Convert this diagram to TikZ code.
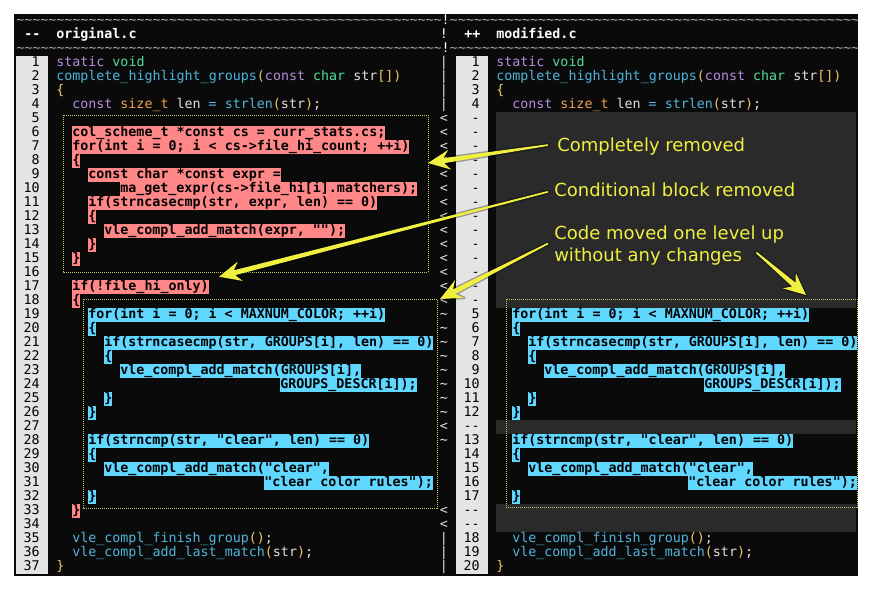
\documentclass[tikz,border=0pt]{standalone}
\usepackage{fontspec}
\setmainfont{DejaVu Sans}
\setmonofont{DejaVu Sans Mono}
\usetikzlibrary{calc}

\definecolor{termbg}{RGB}{10,10,10}
\definecolor{gonebg}{RGB}{42,42,42}
\definecolor{gutterbg}{RGB}{228,228,228}
\definecolor{delred}{RGB}{255,135,135}
\definecolor{movblue}{RGB}{95,215,255}
\definecolor{kwpurple}{RGB}{180,140,220}
\definecolor{tygreen}{RGB}{80,220,150}
\definecolor{fncyan}{RGB}{80,180,220}
\definecolor{brorange}{RGB}{240,200,100}
\definecolor{szorange}{RGB}{240,160,80}
\definecolor{plaingray}{RGB}{225,225,225}
\definecolor{notey}{RGB}{240,240,64}
\definecolor{boxy}{RGB}{200,200,90}

\ExplSyntaxOn
\cs_new_eq:NN \reptext \prg_replicate:nn
\ExplSyntaxOff

\newcommand\codesize{\fontsize{10}{12}\selectfont}
\newcommand\ckw[1]{\textcolor{kwpurple}{#1}}
\newcommand\cty[1]{\textcolor{tygreen}{#1}}
\newcommand\cfn[1]{\textcolor{fncyan}{#1}}
\newcommand\cbr[1]{\textcolor{brorange}{#1}}
\newcommand\csz[1]{\textcolor{szorange}{#1}}

\tikzset{
  codetxt/.style={anchor=base west, inner sep=0pt, font=\codesize\ttfamily, text=plaingray},
  hlred/.style={codetxt, fill=delred, text=black, font=\codesize\ttfamily\bfseries,
    text height=7.875pt, text depth=2.625pt},
  hlblue/.style={hlred, fill=movblue},
  lnum/.style={anchor=base east, inner sep=0pt, font=\codesize\ttfamily, text=black},
  diffsign/.style={anchor=base, inner sep=0pt, font=\codesize\ttfamily, text=plaingray},
  hdr/.style={codetxt, font=\codesize\ttfamily\bfseries, text=white},
  tildes/.style={codetxt, text=gray!70},
  notetxt/.style={inner sep=0pt, text=notey, font=\fontsize{13.5}{16.5}\selectfont, align=left},
  chgbox/.style={draw=boxy, line width=0.75pt, dash pattern=on 0.75pt off 0.75pt},
  notearrow/.style={fill=notey, preaction={draw=black, line width=2pt, opacity=.35, line join=round}}
}

% tapered arrow: #1 tail, #2 tip
\newcommand\fatarrow[2]{%
  \path (#2) coordinate (ahtip) ($(#2)!12pt!(#1)$) coordinate (ahneck)
        ($(#2)!16.5pt!(#1)$) coordinate (ahwing);
  \fill[notearrow] ($(#1)!0.6pt!90:(#2)$) -- ($(ahneck)!1.9pt!90:(ahtip)$)
    -- ($(ahwing)!7.5pt!90:(ahtip)$) -- (ahtip) -- ($(ahwing)!7.5pt!-90:(ahtip)$)
    -- ($(ahneck)!1.9pt!-90:(ahtip)$) -- ($(#1)!0.6pt!-90:(#2)$) -- cycle;}

\begin{document}
\begin{tikzpicture}[x=0.75pt, y=-0.75pt]
\useasboundingbox (0,0) rectangle (871,589);

% terminal window
\fill[termbg] (14,14) rectangle (858,576);
\fill[gutterbg] (16,56) rectangle (48,574);
\fill[gutterbg] (456,56) rectangle (488,574);

% filler rows on the right
\fill[gonebg] (496,112) rectangle (856,308);
\fill[gonebg] (496,420) rectangle (856,434);
\fill[gonebg] (496,504) rectangle (856,532);

\begin{scope}[shift={(16,52.5)}, x=6pt, y=-10.5pt]
  % header
  \foreach \r in {-2,0}
    \node[tildes] (rule\r) at (0,\r)
      {\reptext{53}{\textasciitilde}\textcolor{white}{!}\reptext{51}{\textasciitilde}};
  \node[hdr] (minus) at (1,-1) {-{}-};
  \node[hdr] (oname) at (5,-1) {original.c};
  \node[diffsign, text=white] (bang) at (53.5,-1) {!};
  \node[hdr] (plus) at (56,-1) {++};
  \node[hdr] (mname) at (60,-1) {modified.c};

  % line numbers
  \foreach \n in {1,...,37}
    \node[lnum] (onum\n) at (3,\n) {\n};
  \foreach \r/\t in {1/1,2/2,3/3,4/4,19/5,20/6,21/7,22/8,23/9,24/10,25/11,26/12,
                     28/13,29/14,30/15,31/16,32/17,35/18,36/19,37/20}
    \node[lnum] (mnum\r) at (58,\r) {\t};
  \foreach \r in {5,...,18}
    \node[lnum] (mnum\r) at (58,\r) {-};
  \foreach \r in {27,33,34}
    \node[lnum] (mnum\r) at (58,\r) {-{}-};

  % diff markers
  \foreach \r in {1,...,4,35,36,37}
    \node[diffsign] (sg\r) at (53.5,\r) {|};
  \foreach \r in {5,...,18,27,33,34}
    \node[diffsign] (sg\r) at (53.5,\r) {<};
  \foreach \r in {19,...,26,28,...,32}
    \node[diffsign] (sg\r) at (53.5,\r) {\textasciitilde};

  % original.c
  \node[codetxt] (o1) at (5,1) {\ckw{static} \cty{void}};
  \node[codetxt] (o2) at (5,2) {\cfn{complete\_highlight\_groups}\cbr{(}\ckw{const} \cty{char} str\cbr{[])}};
  \node[codetxt] (o3) at (5,3) {\cbr{\{}};
  \node[codetxt] (o4) at (7,4) {\ckw{const} \csz{size\_t} len \cfn{=} \cfn{strlen}\cbr{(}str\cbr{)};};
  \node[hlred] (o6) at (7,6) {col\_scheme\_t *const cs = curr\_stats.cs;};
  \node[hlred] (o7) at (7,7) {for(int i = 0; i < cs->file\_hi\_count; ++i)};
  \node[hlred] (o8) at (7,8) {\{};
  \node[hlred] (o9) at (9,9) {const char *const expr =};
  \node[hlred] (o10) at (13,10) {ma\_get\_expr(cs->file\_hi[i].matchers);};
  \node[hlred] (o11) at (9,11) {if(strncasecmp(str, expr, len) == 0)};
  \node[hlred] (o12) at (9,12) {\{};
  \node[hlred] (o13) at (11,13) {vle\_compl\_add\_match(expr, "");};
  \node[hlred] (o14) at (9,14) {\}};
  \node[hlred] (o15) at (7,15) {\}};
  \node[hlred] (o17) at (7,17) {if(!file\_hi\_only)};
  \node[hlred] (o18) at (7,18) {\{};
  \node[hlblue] (o19) at (9,19) {for(int i = 0; i < MAXNUM\_COLOR; ++i)};
  \node[hlblue] (o20) at (9,20) {\{};
  \node[hlblue] (o21) at (11,21) {if(strncasecmp(str, GROUPS[i], len) == 0)};
  \node[hlblue] (o22) at (11,22) {\{};
  \node[hlblue] (o23) at (13,23) {vle\_compl\_add\_match(GROUPS[i],};
  \node[hlblue] (o24) at (33,24) {GROUPS\_DESCR[i]);};
  \node[hlblue] (o25) at (11,25) {\}};
  \node[hlblue] (o26) at (9,26) {\}};
  \node[hlblue] (o28) at (9,28) {if(strncmp(str, "clear", len) == 0)};
  \node[hlblue] (o29) at (9,29) {\{};
  \node[hlblue] (o30) at (11,30) {vle\_compl\_add\_match("clear",};
  \node[hlblue] (o31) at (31,31) {"clear color rules");};
  \node[hlblue] (o32) at (9,32) {\}};
  \node[hlred] (o33) at (7,33) {\}};
  \node[codetxt] (o35) at (7,35) {\cfn{vle\_compl\_finish\_group}\cbr{()};};
  \node[codetxt] (o36) at (7,36) {\cfn{vle\_compl\_add\_last\_match}\cbr{(}str\cbr{)};};
  \node[codetxt] (o37) at (5,37) {\cbr{\}}};

  % modified.c
  \node[codetxt] (m1) at (60,1) {\ckw{static} \cty{void}};
  \node[codetxt] (m2) at (60,2) {\cfn{complete\_highlight\_groups}\cbr{(}\ckw{const} \cty{char} str\cbr{[])}};
  \node[codetxt] (m3) at (60,3) {\cbr{\{}};
  \node[codetxt] (m4) at (62,4) {\ckw{const} \csz{size\_t} len \cfn{=} \cfn{strlen}\cbr{(}str\cbr{)};};
  \node[hlblue] (m19) at (62,19) {for(int i = 0; i < MAXNUM\_COLOR; ++i)};
  \node[hlblue] (m20) at (62,20) {\{};
  \node[hlblue] (m21) at (64,21) {if(strncasecmp(str, GROUPS[i], len) == 0)};
  \node[hlblue] (m22) at (64,22) {\{};
  \node[hlblue] (m23) at (66,23) {vle\_compl\_add\_match(GROUPS[i],};
  \node[hlblue] (m24) at (86,24) {GROUPS\_DESCR[i]);};
  \node[hlblue] (m25) at (64,25) {\}};
  \node[hlblue] (m26) at (62,26) {\}};
  \node[hlblue] (m28) at (62,28) {if(strncmp(str, "clear", len) == 0)};
  \node[hlblue] (m29) at (62,29) {\{};
  \node[hlblue] (m30) at (64,30) {vle\_compl\_add\_match("clear",};
  \node[hlblue] (m31) at (84,31) {"clear color rules");};
  \node[hlblue] (m32) at (62,32) {\}};
  \node[codetxt] (m35) at (62,35) {\cfn{vle\_compl\_finish\_group}\cbr{()};};
  \node[codetxt] (m36) at (62,36) {\cfn{vle\_compl\_add\_last\_match}\cbr{(}str\cbr{)};};
  \node[codetxt] (m37) at (60,37) {\cbr{\}}};
\end{scope}

% changed blocks
\draw[chgbox] (63,115) rectangle (428,272);
\draw[chgbox] (83,299) rectangle (437,508);
\draw[chgbox] (506,299) rectangle (857,507);

% notes
\node[notetxt, anchor=base west] (notegone) at (557,151) {Completely removed};
\node[notetxt, anchor=base west] (notecond) at (554,196.5) {Conditional block removed};
\node[notetxt, anchor=north west] (notemove) at (554,225.5) {Code moved one level up\\without any changes};

\coordinate (gonetail) at ($(notegone.west)+(-9,-1)$);
\coordinate (gonetip) at (428,163);
\coordinate (condtail) at ($(notecond.west)+(-6,2)$);
\coordinate (condtip) at ($(o17.north east)+(10,-3)$);
\coordinate (movetail) at ($(notemove.north west)+(-6,18)$);
\coordinate (movetip) at (440,299);
\coordinate (uptail) at ($(notemove.south east)+(-28,-13)$);
\coordinate (uptip) at (806,295);

\fatarrow{gonetail}{gonetip}
\fatarrow{condtail}{condtip}
\fatarrow{movetail}{movetip}
\fatarrow{uptail}{uptip}
\end{tikzpicture}
\end{document}
